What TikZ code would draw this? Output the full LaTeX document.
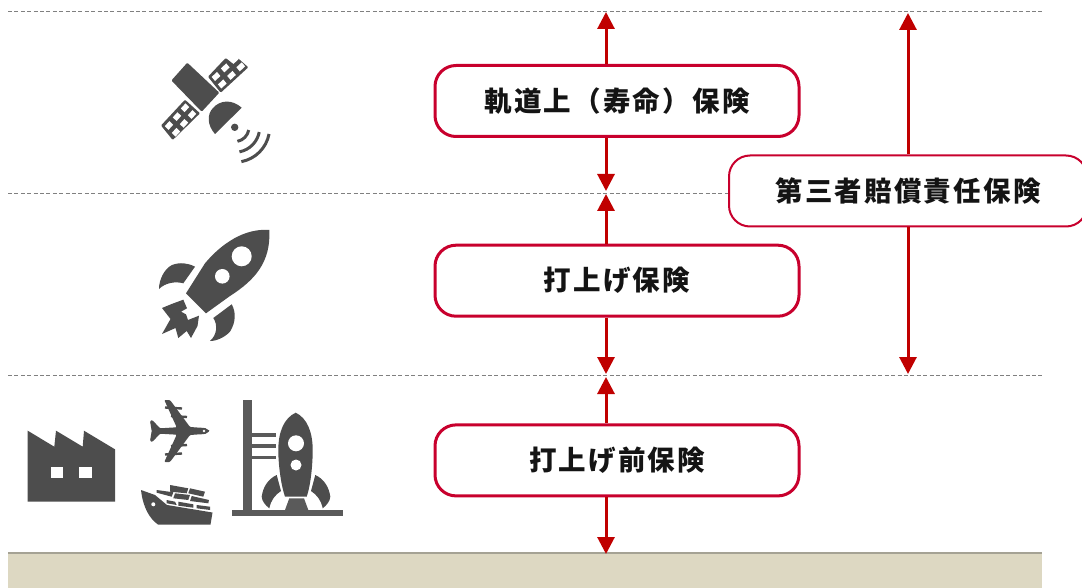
\documentclass[tikz,border=0pt]{standalone}
\usepackage{fontspec}
\newfontfamily\cjk[LetterSpace=8]{Noto Sans CJK JP}
\usetikzlibrary{positioning,arrows.meta}
\definecolor{boxred}{HTML}{C8002D}
\definecolor{arrowred}{HTML}{C00000}
\definecolor{icongray}{HTML}{4D4D4D}
\definecolor{towergray}{HTML}{5A5A5A}
\definecolor{groundtan}{HTML}{DDD8C2}
\definecolor{groundline}{HTML}{A5A294}
\tikzset{
  stagebox/.style={draw=boxred,line width=3pt,rounded corners=21pt,fill=white,minimum width=364pt,minimum height=71pt,font=\cjk\bfseries\fontsize{27.5}{30}\selectfont,text=black!92},
  thirdbox/.style={stagebox,line width=2pt,minimum width=358pt},
  span/.style={draw=arrowred,line width=3pt,-{Triangle[width=17pt,length=17pt]}},
  level/.style={draw=black!50,line width=0.8pt,dash pattern=on 4pt off 2.4pt},
  wave/.style={draw=icongray,line width=3pt},
  icon/.style={fill=icongray},
  stub/.style={draw=icongray,line width=2.4pt},
  hole/.style={fill=white}
}
\newcommand{\panelcells}[6]{
  \foreach \i in {0,1,2} \foreach \j in {0,1} {
    \fill[hole] ({#1+(\i+.21)*(#3)/3+(\j+.23)*(#5)/2},{#2+(\i+.21)*(#4)/3+(\j+.23)*(#6)/2})
      -- ++({.58*(#3)/3},{.58*(#4)/3}) -- ++({.54*(#5)/2},{.54*(#6)/2}) -- ++({-.58*(#3)/3},{-.58*(#4)/3}) -- cycle;
  }
}
\begin{document}
\begin{tikzpicture}[x=1pt,y=-1pt,node distance=105.7pt]
     \useasboundingbox (0,0) rectangle (1082,588);

     % ground and levels
     \fill[groundtan] (8,553) rectangle (1042,588);
     \coordinate (g1) at (8,553);
     \coordinate (g2) at (1042,553);
     \draw[groundline,line width=1.5pt] (g1) -- (g2);
     \coordinate (l1) at (8,11);
     \coordinate (r1) at (1043,11);
     \coordinate (l2) at (8,193);
     \coordinate (r2) at (1043,193);
     \coordinate (l3) at (8,375);
     \coordinate (r3) at (1043,375);
     \draw[level] (l1) -- (r1);
     \draw[level] (l2) -- (r2);
     \draw[level] (l3) -- (r3);

     % boxes
     \node[stagebox] (orbit) at (617,101) {軌道上（寿命）保険};
     \node[stagebox,below=of orbit] (launch) {打上げ保険};
     \node[stagebox,below=of launch] (prelaunch) {打上げ前保険};
     \node[thirdbox] (third) at (908,191) {\raisebox{-1.5pt}{第三者賠償責任保険}};

     % arrow ends
     \coordinate (a1) at (606,12);
     \coordinate (a2) at (606,191);
     \coordinate (a3) at (606,194);
     \coordinate (a4) at (606,374);
     \coordinate (a5) at (606,377);
     \coordinate (a6) at (606,554);
     \coordinate (b1) at (908,13);
     \coordinate (b2) at (908,374);

     \draw[span] (a1 |- orbit.north) -- (a1);
     \draw[span] (a2 |- orbit.south) -- (a2);
     \draw[span] (a3 |- launch.north) -- (a3);
     \draw[span] (a4 |- launch.south) -- (a4);
     \draw[span] (a5 |- prelaunch.north) -- (a5);
     \draw[span] (a6 |- prelaunch.south) -- (a6);
     \draw[span] (third.north) -- (b1);
     \draw[span] (third.south) -- (b2);

     % satellite
     \fill[icon,rounded corners=1pt] (187.3,62.7) -- (219.3,92.7) -- (201.7,111.7) -- (171.4,80.5) -- cycle;
     \fill[icon,rounded corners=1pt] (208,76.7) -- (225.7,58) -- (233.3,64) -- (237.7,58) -- (248.3,67.3) -- (220.7,92.7) -- cycle;
     \fill[icon,rounded corners=1pt] (185,99.7) -- (200,113.3) -- (172.7,140) -- (161,125.5) -- cycle;
     \panelcells{208.3}{77}{27.7}{-25.7}{12.5}{15}
     \panelcells{185.5}{100}{-24}{26.5}{14}{13.5}
     \fill[icon] (215,134) .. controls (207,125) and (207,114) .. (213,108) .. controls (220,100) and (232,99) .. (241.7,107.7) -- cycle;
     \fill[icon] (234.7,127.3) circle (3.7pt);
     \foreach \r in {14.3,25,35} {
        \draw[wave] ({234.7+\r*cos(79)},{127.3+\r*sin(79)})
          .. controls ({234.7+\r*cos(79)+.41*\r*sin(79)},{127.3+\r*sin(79)-.41*\r*cos(79)})
          and ({234.7+\r*cos(11)-.41*\r*sin(11)},{127.3+\r*sin(11)+.41*\r*cos(11)})
          .. ({234.7+\r*cos(11)},{127.3+\r*sin(11)});
     }

     % rocket in flight
     \fill[icon] (269.3,230) .. controls (245,228) and (222,243) .. (205,263.3) -- (186,293.3) -- (206,313.3) -- (230,296) .. controls (255,280) and (271,262) .. (269.3,230) -- cycle;
     \fill[hole] (241.7,256.3) circle (10pt);
     \fill[hole] (222.3,276.3) circle (7.3pt);
     \fill[icon] (195,266.7) .. controls (188,263) and (180,262) .. (172,265) .. controls (164,269) and (159,280) .. (159,289) .. controls (165,283) and (175,281) .. (183.3,283.3) -- cycle;
     \fill[icon] (231.7,304.3) .. controls (236,312) and (236,322) .. (230,331.7) .. controls (225,337) and (217,341) .. (210,341) .. controls (217,335) and (218,325) .. (213.3,318) -- cycle;
     \fill[icon] (162,308) -- (171.7,304) -- (183.3,299.7) -- (187,308.3) -- (181,311.7) -- (186,314.3) -- (188,320) -- (199,315.7) -- (197.5,326) -- (191,338) -- (186.7,331) -- (178.3,338) -- (175.5,328) -- (162,334) -- (170.5,319) -- cycle;

     % factory
     \fill[icon] (27.7,430.7) -- (54.3,446.7) -- (56,430.7) -- (82.7,446.7) -- (84,430.7) -- (115,449.3) -- (115,501.7) -- (27.7,501.7) -- cycle;
     \fill[hole] (50.7,466.7) rectangle (63.3,478.3);
     \fill[hole] (79.3,466.7) rectangle (92,478.3);

     % plane
     \fill[icon,rounded corners=1pt] (209.3,431) .. controls (207,428) and (204,427.7) .. (200,427.7) -- (190,427) -- (170,400) -- (164.3,400) -- (176.7,427.3) -- (160,428.3) -- (152.3,420) -- (150,421) -- (151.7,431)
        -- (150,441) -- (152.3,442) -- (160,433.7) -- (176.7,434.7) -- (164.3,462) -- (170,462) -- (190,435) -- (200,434.3) .. controls (204,434.3) and (207,434) .. (209.3,431) -- cycle;
     \fill[hole] (204,431) circle (1.4pt);
     \draw[stub] (165,407.5) -- (182,408.5);
     \draw[stub] (171,416) -- (187,417);
     \draw[stub] (165,454.5) -- (182,453.5);
     \draw[stub] (171,446) -- (187,445);

     % ship
     \fill[icon] (141,490) -- (155,495) -- (167,505) -- (212.5,512.5) -- (210.5,524.5) -- (158,524.5) .. controls (150,519) and (143,508) .. (141,490) -- cycle;
     \fill[hole] (153.3,504.3) circle (2pt);
     \fill[icon] (170,485) -- (188.3,488.3) -- (186.7,493.3) -- (170,491.7) -- cycle;
     \fill[icon] (190,488.3) -- (205,491.7) -- (203.3,496.7) -- (188.3,493.3) -- cycle;
     \fill[icon] (156.7,490) -- (173.3,492.3) -- (171.7,496.7) -- (156.7,492.7) -- cycle;
     \fill[icon] (175,493.3) -- (190,495) -- (188.3,500) -- (173.3,498.3) -- cycle;
     \fill[icon] (191.7,496) -- (209,500) -- (208.3,503.3) -- (190,501) -- cycle;
     \fill[icon] (166.7,500) -- (175,501.7) -- (176.7,505) -- (166.7,503.3) -- cycle;
     \fill[icon] (178.3,501.7) -- (193.3,504.3) -- (193.3,507.7) -- (178.3,505.7) -- cycle;
     \fill[icon] (196.7,505) -- (210,506.7) -- (210,510) -- (196.7,508.3) -- cycle;

     % launch pad
     \fill[towergray] (243.3,400) rectangle (252.3,510);
     \fill[towergray] (231.7,510) rectangle (343.3,516);
     \foreach \army in {433.3,444.3,455.7} {
        \fill[towergray] (252.3,\army) rectangle (275.7,\army+3.4);
     }
     \fill[icon] (295.7,412.7) .. controls (284,418) and (278.3,432) .. (278.3,450) .. controls (278.3,465) and (281,485) .. (285,496.7) -- (306.7,496.7) .. controls (310.7,485) and (312.7,465) .. (312.7,450) .. controls (312.7,432) and (307,418) .. (295.7,412.7) -- cycle;
     \fill[hole] (296,443.3) circle (8pt);
     \fill[hole] (296,465) circle (5.5pt);
     \fill[icon] (276.7,475) .. controls (268,479) and (263,487) .. (261.7,496.7) .. controls (262,501) and (265,505) .. (269.3,508.3) .. controls (271,500) and (275,495) .. (281,491) -- cycle;
     \fill[icon] (315.3,475) .. controls (324,479) and (329,487) .. (330.3,496.7) .. controls (330,501) and (327,505) .. (322.7,508.3) .. controls (321,500) and (317,495) .. (311,491) -- cycle;
     \fill[towergray] (289.3,498.3) -- (304,498.3) -- (308.3,510) -- (285,510) -- cycle;
\end{tikzpicture}
\end{document}
